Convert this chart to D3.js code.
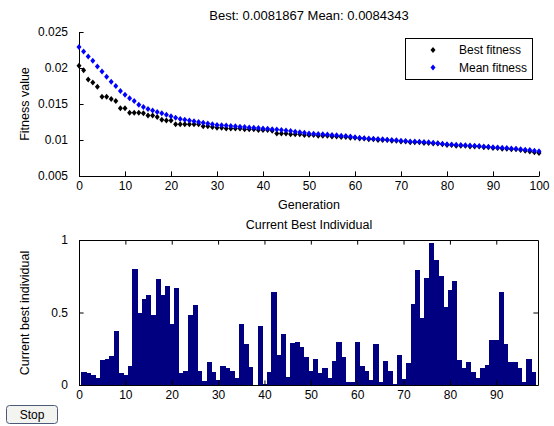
<!DOCTYPE html>
<html><head><meta charset="utf-8">
<script src="https://cdn.jsdelivr.net/npm/d3@7"></script>
<style>
html,body{margin:0;padding:0;background:#fff;}
svg{display:block;font-family:"Liberation Sans",Arial,Helvetica,sans-serif;}
</style></head><body>
<svg id="c" width="554" height="426"></svg>
<script>
// ---------- DATA ----------
const generations = d3.range(0, 101);
const bestFitness = [
0.0203,0.0197,0.0184,0.0180,0.0174,0.0160,0.0160,0.0157,0.0154,0.0144,
0.0144,0.0138,0.0138,0.0138,0.0137,0.0134,0.0134,0.0132,0.0128,0.0127,
0.0127,0.0122,0.0122,0.0122,0.0122,0.0122,0.0122,0.0119,0.0119,0.0118,
0.0117,0.0117,0.0116,0.0116,0.0116,0.0116,0.0115,0.0115,0.0115,0.0114,
0.0114,0.0114,0.0113,0.0109,0.0109,0.0109,0.0108,0.0108,0.0108,0.0107,
0.0107,0.0107,0.0106,0.0106,0.0106,0.0105,0.0105,0.0104,0.0104,0.0103,
0.0103,0.0102,0.0102,0.0101,0.0101,0.0100,0.0100,0.0100,0.0099,0.0099,
0.0098,0.0098,0.0097,0.0097,0.0097,0.0096,0.0096,0.0095,0.0095,0.0094,
0.0093,0.0093,0.0092,0.0092,0.0092,0.0091,0.0091,0.0091,0.0090,0.0090,
0.0089,0.0089,0.0088,0.0088,0.0087,0.0087,0.0086,0.0085,0.0084,0.0083,
0.0081867];
const meanFitness = [
0.0229,0.0223,0.0216,0.0210,0.0202,0.0195,0.0188,0.0181,0.0175,0.0168,
0.0163,0.0158,0.0154,0.0149,0.0146,0.0143,0.0141,0.0139,0.0137,0.0135,
0.0133,0.0131,0.0129,0.0128,0.0127,0.0126,0.0125,0.0124,0.0123,0.0122,
0.0121,0.01205,0.0120,0.01195,0.0119,0.01185,0.0118,0.01175,0.0117,0.01165,
0.0116,0.01155,0.0115,0.01145,0.0114,0.01132,0.01124,0.01116,0.01108,0.0110,
0.01092,0.01088,0.01084,0.0108,0.01075,0.0107,0.01065,0.0106,0.01055,0.0105,
0.01037,0.0103,0.01025,0.0102,0.01017,0.01013,0.0101,0.01005,0.0100,0.00995,
0.0099,0.00985,0.0098,0.00978,0.00975,0.00972,0.00968,0.00962,0.00955,0.00948,
0.0094,0.00937,0.00933,0.0093,0.00927,0.00923,0.0092,0.00915,0.0091,0.00905,
0.0090,0.00896,0.00892,0.00888,0.00883,0.00878,0.00873,0.00866,0.0086,0.00852,
0.0084343];
const individualIndex = d3.range(1, 99);
const individualValues = [
0.09,0.08,0.07,0.05,0.17,0.18,0.20,0.37,0.08,0.07,
0.13,0.80,0.50,0.59,0.62,0.48,0.73,0.62,0.68,0.42,
0.67,0.08,0.10,0.48,0.55,0.10,0.03,0.16,0.087,0.035,
0.13,0.115,0.10,0.046,0.42,0.28,0.126,0.003,0.41,0.004,
0.09,0.64,0.21,0.35,0.055,0.29,0.30,0.265,0.19,0.10,
0.18,0.086,0.12,0.046,0.163,0.30,0.19,0.02,0.018,0.30,
0.13,0.095,0.033,0.28,0.02,0.165,0.10,0.007,0.21,0.04,
0.15,0.56,0.79,0.46,0.74,0.98,0.86,0.75,0.54,0.655,
0.72,0.17,0.12,0.16,0.09,0.05,0.12,0.135,0.31,0.31,
0.64,0.285,0.16,0.16,0.12,0.02,0.18,0.09];
const topXTicks = [0,10,20,30,40,50,60,70,80,90,100];
const topYTicks = [0.005,0.01,0.015,0.02,0.025];
const topYTickLabels = ["0.005","0.01","0.015","0.02","0.025"];
const botXTicks = [0,10,20,30,40,50,60,70,80,90];
const botYTicks = [0,0.5,1];
const botYTickLabels = ["0","0.5","1"];
const legendLabels = ["Best fitness","Mean fitness"];
const titleTop = "Best: 0.0081867 Mean: 0.0084343";

// ---------- DRAW ----------
const svg = d3.select("#c");
const FS = 12, TL = 4.6;

const xT = d3.scaleLinear([0,100],[79,539]);
const yT = d3.scaleLinear([0.005,0.025],[176,32]);
const xB = d3.scaleLinear([0,99],[79,538]);
const yB = d3.scaleLinear([0,1],[385,240]);

function style(g){
  g.selectAll("path.domain").attr("stroke","#000").attr("stroke-width",1);
  g.selectAll(".tick line").attr("stroke","#000");
  g.selectAll("text").attr("font-size",FS).attr("fill","#000")
   .attr("font-family","'Liberation Sans',Arial,sans-serif");
}

// top plot axes (box off)
svg.append("g").attr("transform","translate(0,176)")
  .call(d3.axisBottom(xT).tickValues(topXTicks).tickSizeInner(-TL).tickSizeOuter(0).tickPadding(5))
  .call(style);
svg.append("g").attr("transform","translate(79,0)")
  .call(d3.axisLeft(yT).tickValues(topYTicks).tickFormat((d,i)=>topYTickLabels[i]).tickSizeInner(-TL).tickSizeOuter(0).tickPadding(11))
  .call(style);

const diamond = "M0,-3L2.5,0L0,3L-2.5,0Z";
svg.append("g").selectAll("path").data(generations).join("path")
  .attr("d",diamond).attr("fill","#000")
  .attr("transform",g=>`translate(${xT(g)},${yT(bestFitness[g])})`);
svg.append("g").selectAll("path").data(generations).join("path")
  .attr("d",diamond).attr("fill","#0000ff")
  .attr("transform",g=>`translate(${xT(g)},${yT(meanFitness[g])})`);

// legend
const lg = svg.append("g");
lg.append("rect").attr("x",405.5).attr("y",38.5).attr("width",127).attr("height",41)
  .attr("fill","#fff").attr("stroke","#000");
const lgColors = ["#000","#0000ff"];
legendLabels.forEach((t,i)=>{
  const yy = 50 + i*17.5;
  lg.append("path").attr("d",diamond).attr("fill",lgColors[i]).attr("transform",`translate(433,${yy})`);
  lg.append("text").attr("x",459).attr("y",yy+4).attr("font-size",FS).text(t);
});

svg.append("text").attr("x",309).attr("y",20).attr("text-anchor","middle").attr("font-size",13).text(titleTop);
svg.append("text").attr("x",309).attr("y",209).attr("text-anchor","middle").attr("font-size",12.5).text("Generation");
svg.append("text").attr("transform","translate(29,104) rotate(-90)").attr("text-anchor","middle").attr("font-size",12.5).text("Fitness value");

// bottom plot
const bw = xB(1)-xB(0);
svg.append("g").attr("shape-rendering","crispEdges").selectAll("rect").data(individualIndex).join("rect")
  .attr("x",i=>xB(i)-bw/2).attr("width",bw+0.6)
  .attr("y",(i,k)=>yB(individualValues[k])).attr("height",(i,k)=>yB(0)-yB(individualValues[k]))
  .attr("fill","#000080");

svg.append("g").attr("transform","translate(0,385)")
  .call(d3.axisBottom(xB).tickValues(botXTicks).tickSizeInner(-TL).tickSizeOuter(0).tickPadding(5))
  .call(style);
svg.append("g").attr("transform","translate(0,240)")
  .call(d3.axisTop(xB).tickValues(botXTicks).tickFormat("").tickSizeInner(-TL).tickSizeOuter(0))
  .call(style);
svg.append("g").attr("transform","translate(79,0)")
  .call(d3.axisLeft(yB).tickValues(botYTicks).tickFormat((d,i)=>botYTickLabels[i]).tickSizeInner(-TL).tickSizeOuter(0).tickPadding(11))
  .call(style);
svg.append("g").attr("transform","translate(538,0)")
  .call(d3.axisRight(yB).tickValues(botYTicks).tickFormat("").tickSizeInner(-TL).tickSizeOuter(0))
  .call(style);

svg.append("text").attr("x",309).attr("y",229).attr("text-anchor","middle").attr("font-size",12.5).text("Current Best Individual");
svg.append("text").attr("transform","translate(29,313) rotate(-90)").attr("text-anchor","middle").attr("font-size",12.5).text("Current best individual");

// Stop button
const bt = svg.append("g");
bt.append("rect").attr("x",6.5).attr("y",405.5).attr("width",51).attr("height",18).attr("rx",3)
  .attr("fill","#f3f3ef").attr("stroke","#4a5a78");
bt.append("text").attr("x",32).attr("y",418.5).attr("text-anchor","middle").attr("font-size",12).text("Stop");
</script></body></html>
